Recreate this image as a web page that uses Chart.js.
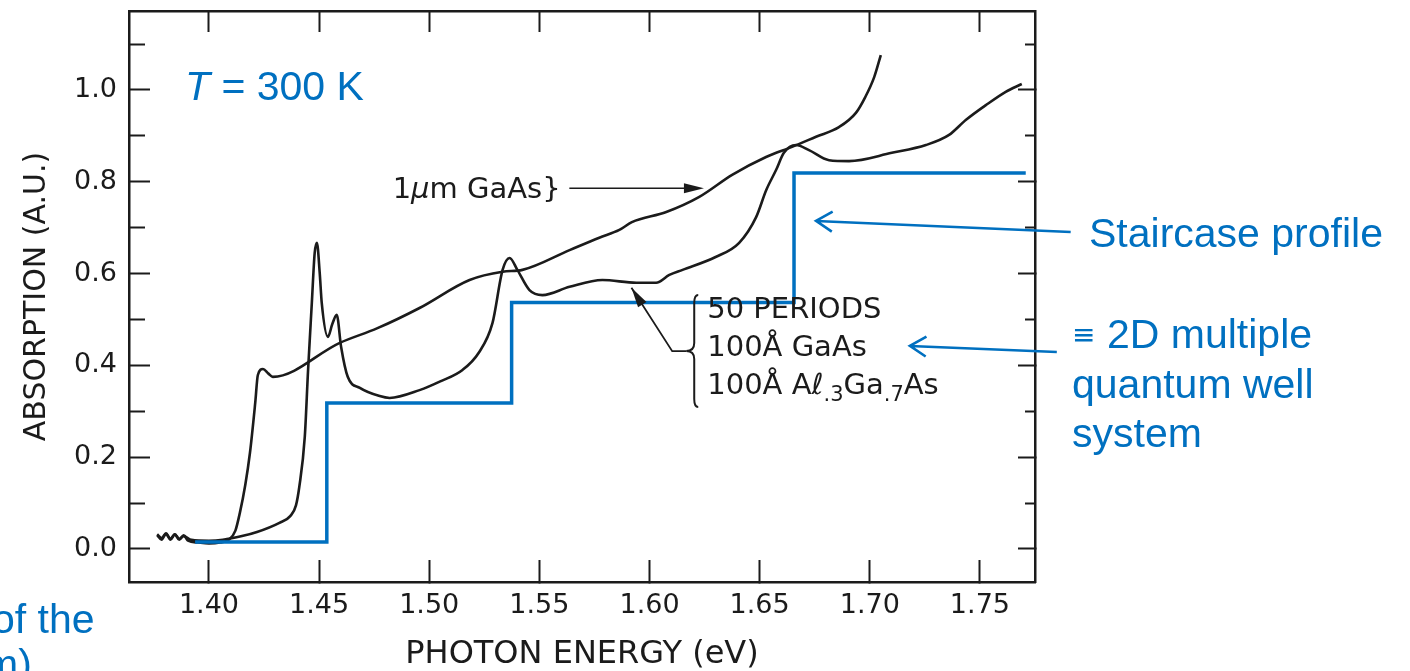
<!DOCTYPE html>
<html>
<head>
<meta charset="utf-8">
<script src="https://cdn.jsdelivr.net/npm/chart.js@4.4.1/dist/chart.umd.min.js"></script>
<style>
  html, body { margin: 0; padding: 0; background: #fff; }
  #wrap { width: 1410px; height: 671px; }
</style>
</head>
<body>
<div id="wrap"><canvas id="absChart" width="1410" height="671"></canvas></div>
<script>
// Absorption spectra at T = 300 K: bulk GaAs, a 50-period GaAs/AlGaAs MQW, and the ideal 2D staircase

// 1 um bulk GaAs
const bulkEnergy = [1.3765, 1.3785, 1.3805, 1.3825, 1.3845, 1.3865, 1.3885, 1.3905, 1.395, 1.400, 1.405, 1.409,
  1.412, 1.414, 1.4165, 1.4186, 1.421, 1.4222, 1.4245, 1.427, 1.429, 1.4594, 1.4765, 1.4956, 1.5183, 1.5333,
  1.5423, 1.5637, 1.5772, 1.5863, 1.592, 1.6076, 1.6226, 1.6375, 1.6529, 1.6647, 1.6756, 1.686, 1.6937,
  1.698, 1.702, 1.705];
const bulkAbs = [0.030, 0.020, 0.033, 0.020, 0.032, 0.020, 0.030, 0.018, 0.014, 0.012, 0.014, 0.020,
  0.040, 0.078, 0.140, 0.209, 0.318, 0.379, 0.392, 0.382, 0.375, 0.449, 0.481, 0.525, 0.586, 0.604,
  0.608, 0.651, 0.678, 0.695, 0.712, 0.734, 0.767, 0.815, 0.854, 0.876, 0.898, 0.919, 0.950,
  0.985, 1.028, 1.076];

// 50 periods: 100 A GaAs / 100 A Al.3Ga.7As
const mqwEnergy = [1.3765, 1.3785, 1.3805, 1.3825, 1.3845, 1.3865, 1.3885, 1.392, 1.400, 1.4063, 1.415, 1.4218,
  1.432, 1.437, 1.4395, 1.441, 1.4435, 1.445, 1.4467, 1.448, 1.449, 1.4503, 1.4512, 1.454, 1.456, 1.458, 1.460,
  1.463, 1.4685, 1.4775, 1.482, 1.4956, 1.505, 1.5151, 1.5224, 1.5287, 1.5333, 1.5365, 1.540, 1.5455,
  1.5514, 1.5637, 1.5786, 1.594, 1.603, 1.609, 1.615, 1.630, 1.6407, 1.6484, 1.653, 1.6575, 1.661,
  1.6665, 1.6724, 1.6815, 1.6906, 1.710, 1.7255, 1.736, 1.7437, 1.7527, 1.7617, 1.769];
const mqwAbs = [0.032, 0.024, 0.034, 0.022, 0.032, 0.022, 0.028, 0.020, 0.018, 0.020, 0.028, 0.037,
  0.057, 0.072, 0.095, 0.135, 0.244, 0.390, 0.536, 0.645, 0.667, 0.600, 0.536, 0.462, 0.490, 0.510, 0.440,
  0.375, 0.351, 0.333, 0.329, 0.346, 0.365, 0.390, 0.427, 0.492, 0.608, 0.634, 0.608, 0.564,
  0.553, 0.571, 0.586, 0.580, 0.580, 0.597, 0.608, 0.636, 0.667, 0.723, 0.782, 0.826, 0.863,
  0.880, 0.869, 0.847, 0.845, 0.863, 0.880, 0.902, 0.935, 0.967, 0.996, 1.013];

// ideal 2D density-of-states staircase
const stairEnergy = [1.3937, 1.4535, 1.5374, 1.6656, 1.7708];
const stairAbs = [0.015, 0.318, 0.537, 0.819, 0.819];

const xTickLabels = ['1.40', '1.45', '1.50', '1.55', '1.60', '1.65', '1.70', '1.75'];
const yTickLabels = ['0.0', '0.2', '0.4', '0.6', '0.8', '1.0'];
const yMinorTicks = [0.1, 0.3, 0.5, 0.7, 0.9, 1.1];

const INK = '#1b1b1b';
const BLUE = '#0070c0';
const TICK_FONT = { family: 'DejaVu Sans', size: 27 };
const X_MIN = 1.3637, X_MAX = 1.775, Y_MIN = -0.072, Y_MAX = 1.172;

const toPoints = (xs, ys) => xs.map((x, i) => ({ x: x, y: ys[i] }));
const fixTicks = vals => scale => { scale.ticks = vals.map(v => ({ value: v })); };
const tickGrid = len => ({ drawOnChartArea: false, drawTicks: true, tickLength: len, tickWidth: 2, tickColor: INK });
const frame = { color: INK, width: 2.5 };
// fixed box size; label overhang must not push the plot area around
const sized = (w, h) => s => {
  if (w !== null) s.width = w;
  if (h !== null) s.height = h;
  s.paddingTop = s.paddingBottom = s.paddingLeft = s.paddingRight = 0;
};

// text, arrows and the brace drawn over the plot
const notes = {
  id: 'notes',
  afterDraw(chart) {
    const ctx = chart.ctx;
    const xs = chart.scales.x, ys = chart.scales.y;
    const P = (e, a) => [xs.getPixelForValue(e), ys.getPixelForValue(a)];

    function runs(x, y, parts) {
      for (const [txt, font, dy] of parts) {
        ctx.font = font;
        ctx.fillText(txt, x, y + (dy || 0));
        x += ctx.measureText(txt).width;
      }
    }
    function solidHead(x0, y0, x1, y1, len, half) {
      const a = Math.atan2(y1 - y0, x1 - x0);
      ctx.beginPath();
      ctx.moveTo(x1, y1);
      ctx.lineTo(x1 - len * Math.cos(a) + half * Math.sin(a), y1 - len * Math.sin(a) - half * Math.cos(a));
      ctx.lineTo(x1 - len * Math.cos(a) - half * Math.sin(a), y1 - len * Math.sin(a) + half * Math.cos(a));
      ctx.closePath();
      ctx.fill();
    }
    function openArrow(x0, y0, x1, y1, len, ang) {
      const a = Math.atan2(y1 - y0, x1 - x0);
      ctx.beginPath();
      ctx.moveTo(x0, y0);
      ctx.lineTo(x1, y1);
      ctx.moveTo(x1 - len * Math.cos(a - ang), y1 - len * Math.sin(a - ang));
      ctx.lineTo(x1, y1);
      ctx.lineTo(x1 - len * Math.cos(a + ang), y1 - len * Math.sin(a + ang));
      ctx.stroke();
    }

    ctx.save();
    // black labels on the plot
    ctx.fillStyle = INK;
    ctx.strokeStyle = INK;
    ctx.textBaseline = 'middle';
    ctx.textAlign = 'left';
    const f = '29px "DejaVu Sans"';
    const fi = 'italic 29px "DejaVu Sans"';
    const fs = '21px "DejaVu Sans"';
    let [lx, ly] = P(1.4834, 0.782);
    runs(lx, ly, [['1', f], ['\u03bc', fi], ['m GaAs}', f]]);

    let [ax0, ay0] = P(1.5636, 0.786);
    let [ax1, ay1] = P(1.6247, 0.786);
    ctx.lineWidth = 1.6;
    ctx.beginPath(); ctx.moveTo(ax0, ay0); ctx.lineTo(ax1 - 12, ay1); ctx.stroke();
    solidHead(ax0, ay0, ax1, ay1, 20, 5);

    [lx, ly] = P(1.6262, 0.52);
    runs(lx, ly, [['50 PERIODS', f]]);
    [lx, ly] = P(1.6262, 0.436);
    runs(lx, ly, [['100\u00c5 GaAs', f]]);
    [lx, ly] = P(1.6262, 0.353);
    runs(lx, ly, [['100\u00c5 A\u2113', f], ['.3', fs, 9], ['Ga', f], ['.7', fs, 9], ['As', f]]);

    // brace grouping the three lines
    const [bx, bTop] = P(1.6203, 0.553);
    const [, bBot] = P(1.6203, 0.309);
    const bMid = (bTop + bBot) / 2, w = 8;
    ctx.lineWidth = 2;
    ctx.beginPath();
    ctx.moveTo(bx + 4, bTop);
    ctx.quadraticCurveTo(bx, bTop, bx, bTop + w);
    ctx.lineTo(bx, bMid - w);
    ctx.quadraticCurveTo(bx, bMid, bx - w, bMid);
    ctx.quadraticCurveTo(bx, bMid, bx, bMid + w);
    ctx.lineTo(bx, bBot - w);
    ctx.quadraticCurveTo(bx, bBot, bx + 4, bBot);
    ctx.stroke();

    // leader from the brace to the MQW curve
    const [kx0] = P(1.6103, 0);
    const [tx, ty] = P(1.5918, 0.569);
    ctx.lineWidth = 1.8;
    ctx.beginPath();
    ctx.moveTo(bx - w, bMid);
    ctx.lineTo(kx0, bMid);
    ctx.lineTo(tx, ty);
    ctx.stroke();
    solidHead(kx0, bMid, tx, ty, 20, 5);

    // blue call-outs
    ctx.strokeStyle = BLUE;
    ctx.fillStyle = BLUE;
    ctx.lineWidth = 2.6;
    let [p0x, p0y] = P(1.7912, 0.6906);
    let [p1x, p1y] = P(1.6756, 0.7146);
    openArrow(p0x, p0y, p1x, p1y, 19, 0.55);
    [p0x, p0y] = P(1.7849, 0.4292);
    [p1x, p1y] = P(1.7182, 0.4423);
    openArrow(p0x, p0y, p1x, p1y, 19, 0.55);

    ctx.textBaseline = 'alphabetic';
    const bf = '41px "Liberation Sans"';
    runs(185, 100, [['T', 'italic ' + bf], [' = 300 K', bf]]);
    runs(1089, 247, [['Staircase profile', bf]]);
    runs(1072, 346, [['\u2261', '28px "DejaVu Sans"', -2]]);
    runs(1107, 348, [['2D multiple', bf]]);
    runs(1072, 398, [['quantum well', bf]]);
    runs(1072, 447, [['system', bf]]);
    runs(-8, 633, [['of the', bf]]);
    runs(-16, 678, [['m)', bf]]);
    ctx.restore();
  }
};

new Chart(document.getElementById('absChart'), {
  type: 'line',
  data: {
    datasets: [
      { label: 'staircase', data: toPoints(stairEnergy, stairAbs), borderColor: BLUE, borderWidth: 3.5,
        stepped: true, pointRadius: 0, fill: false, order: 0 },
      { label: '1 um GaAs', data: toPoints(bulkEnergy, bulkAbs), borderColor: INK, borderWidth: 2.6,
        pointRadius: 0, fill: false, cubicInterpolationMode: 'monotone', order: 1 },
      { label: '50 periods MQW', data: toPoints(mqwEnergy, mqwAbs), borderColor: INK, borderWidth: 2.6,
        pointRadius: 0, fill: false, cubicInterpolationMode: 'monotone', order: 1 }
    ]
  },
  options: {
    responsive: false,
    animation: false,
    devicePixelRatio: 1,
    layout: { padding: { top: 11, right: 375, bottom: 0, left: 0 } },
    plugins: { legend: { display: false }, tooltip: { enabled: false } },
    scales: {
      x: {
        type: 'linear', position: 'bottom', min: X_MIN, max: X_MAX,
        afterBuildTicks: fixTicks(xTickLabels.map(Number)),
        afterFit: sized(null, 89),
        ticks: { color: INK, font: TICK_FONT, padding: 30, maxRotation: 0, autoSkip: false,
          callback: v => xTickLabels.find(t => Math.abs(Number(t) - v) < 1e-6) || '' },
        grid: tickGrid(-22),
        border: frame,
        title: { display: true, text: 'PHOTON ENERGY (eV)', color: INK,
          font: { family: 'DejaVu Sans', size: 32, lineHeight: 1 }, padding: { top: 0, bottom: 0 } }
      },
      xTop: {
        type: 'linear', position: 'top', min: X_MIN, max: X_MAX,
        afterBuildTicks: fixTicks(xTickLabels.map(Number)),
        afterFit: sized(null, 0),
        ticks: { display: false },
        grid: tickGrid(-21),
        border: frame
      },
      y: {
        type: 'linear', position: 'left', weight: 1, min: Y_MIN, max: Y_MAX,
        afterBuildTicks: fixTicks(yTickLabels.map(Number)),
        afterFit: sized(129, null),
        ticks: { color: INK, font: TICK_FONT, padding: 33,
          callback: v => yTickLabels.find(t => Math.abs(Number(t) - v) < 1e-6) || '' },
        grid: tickGrid(-21),
        border: frame,
        title: { display: true, text: 'ABSORPTION (A.U.)', color: INK,
          font: { family: 'DejaVu Sans', size: 30, lineHeight: 1 }, padding: { top: 22, bottom: 0 } }
      },
      yMinor: {
        type: 'linear', position: 'left', weight: 0, min: Y_MIN, max: Y_MAX,
        afterBuildTicks: fixTicks(yMinorTicks),
        afterFit: sized(0, null),
        ticks: { display: false },
        grid: tickGrid(-16),
        border: { display: false }
      },
      yRight: {
        type: 'linear', position: 'right', weight: 1, min: Y_MIN, max: Y_MAX,
        afterBuildTicks: fixTicks(yTickLabels.map(Number)),
        afterFit: sized(0, null),
        ticks: { display: false },
        grid: tickGrid(-17),
        border: frame
      },
      yRightMinor: {
        type: 'linear', position: 'right', weight: 0, min: Y_MIN, max: Y_MAX,
        afterBuildTicks: fixTicks(yMinorTicks),
        afterFit: sized(0, null),
        ticks: { display: false },
        grid: tickGrid(-10),
        border: { display: false }
      }
    }
  },
  plugins: [notes]
});
</script>
</body>
</html>
